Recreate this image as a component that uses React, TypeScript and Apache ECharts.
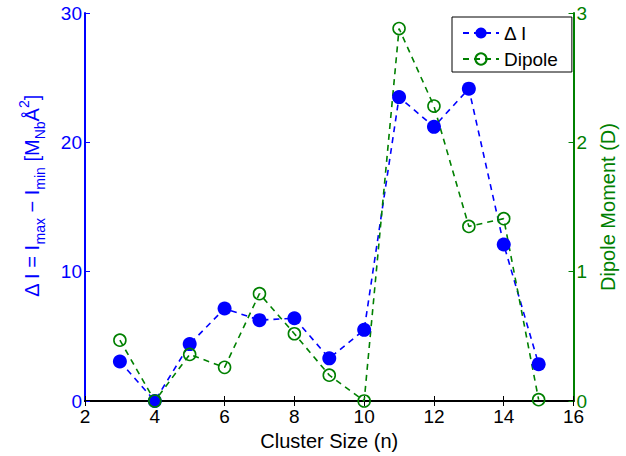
import React, { useEffect, useRef } from "react";
import * as echarts from "echarts";

const clusterSizes = [3, 4, 5, 6, 7, 8, 9, 10, 11, 12, 13, 14, 15];
const deltaI = [3.05, 0, 4.4, 7.15, 6.25, 6.4, 3.3, 5.5, 23.5, 21.2, 24.15, 12.1, 2.85];
const dipole = [0.47, 0, 0.36, 0.26, 0.83, 0.52, 0.2, 0, 2.88, 2.28, 1.35, 1.41, 0.01];
const xTicks = { min: 2, max: 16, interval: 2 };
const leftTicks = { min: 0, max: 30, interval: 10 };
const rightTicks = { min: 0, max: 3, interval: 1 };

const BLUE = "#0000ff";
const GREEN = "#008000";
const FONT = "Liberation Sans";

export default function App() {
  const ref = useRef<HTMLDivElement>(null);
  useEffect(() => {
    const chart = echarts.init(ref.current!, undefined, { renderer: "svg" });
    chart.setOption({
      animation: false,
      backgroundColor: "#ffffff",
      textStyle: { fontFamily: FONT },
      grid: { left: 85, right: 46, top: 13, bottom: 53, containLabel: false },
      legend: {
        left: 452,
        top: 17,
        orient: "vertical",
        backgroundColor: "#ffffff",
        borderColor: "#000000",
        borderWidth: 1,
        borderRadius: 0,
        padding: [6, 14, 3, 10],
        itemGap: 6,
        itemWidth: 36,
        itemHeight: 14,
        textStyle: { fontSize: 19, lineHeight: 20, color: "#000", fontFamily: FONT },
        data: ["Δ I", "Dipole"],
      },
      xAxis: [
        {
          type: "value",
          min: xTicks.min,
          max: xTicks.max,
          interval: xTicks.interval,
          position: "bottom",
          name: "Cluster Size (n)",
          nameLocation: "middle",
          nameGap: 30,
          nameTextStyle: { fontSize: 20, color: "#000", fontFamily: FONT },
          axisLine: { lineStyle: { color: "#000", width: 2 } },
          axisTick: { inside: true, length: 5, lineStyle: { color: "#000", width: 1 } },
          axisLabel: { fontSize: 19, color: "#000", margin: 6, fontFamily: FONT },
          splitLine: { show: false },
        },
        {
          type: "value",
          min: xTicks.min,
          max: xTicks.max,
          interval: xTicks.interval,
          position: "top",
          axisLine: { lineStyle: { color: "#000", width: 2 } },
          axisTick: { inside: true, length: 5, lineStyle: { color: "#000", width: 1 } },
          axisLabel: { show: false },
          splitLine: { show: false },
        },
      ],
      yAxis: [
        {
          type: "value",
          min: leftTicks.min,
          max: leftTicks.max,
          interval: leftTicks.interval,
          position: "left",
          name: "{m|Δ I = I}{s|max}{m| − I}{s|min}{m| [M}{s|Nb}{m|Å}{p|2}{m|]}",
          nameLocation: "middle",
          nameRotate: 90,
          nameGap: 38,
          nameTextStyle: {
            color: BLUE,
            fontFamily: FONT,
            padding: [0, 0, 0, 22],
            rich: {
              m: { fontSize: 20, color: BLUE, fontFamily: FONT, lineHeight: 30, verticalAlign: "middle" },
              s: { fontSize: 14, color: BLUE, fontFamily: FONT, lineHeight: 30, verticalAlign: "bottom" },
              p: { fontSize: 14, color: BLUE, fontFamily: FONT, lineHeight: 30, verticalAlign: "top" },
            },
          },
          axisLine: { lineStyle: { color: BLUE, width: 2 } },
          axisTick: { inside: true, length: 5, lineStyle: { color: BLUE, width: 1 } },
          axisLabel: { fontSize: 19, color: BLUE, margin: 3, fontFamily: FONT },
          splitLine: { show: false },
        },
        {
          type: "value",
          min: rightTicks.min,
          max: rightTicks.max,
          interval: rightTicks.interval,
          position: "right",
          name: "Dipole Moment (D)",
          nameLocation: "middle",
          nameRotate: 90,
          nameGap: 15,
          nameTextStyle: { fontSize: 20, color: GREEN, fontFamily: FONT },
          axisLine: { lineStyle: { color: GREEN, width: 2 } },
          axisTick: { inside: true, length: 5, lineStyle: { color: GREEN, width: 1 } },
          axisLabel: { fontSize: 19, color: GREEN, margin: 3, fontFamily: FONT },
          splitLine: { show: false },
        },
      ],
      series: [
        {
          name: "Δ I",
          type: "line",
          xAxisIndex: 0,
          yAxisIndex: 0,
          data: clusterSizes.map((x, i) => [x, deltaI[i]]),
          symbol: "circle",
          symbolSize: 14,
          clip: false,
          itemStyle: { color: BLUE },
          lineStyle: { color: BLUE, width: 1.6, type: [6, 5] },
        },
        {
          name: "Dipole",
          type: "line",
          xAxisIndex: 0,
          yAxisIndex: 1,
          data: clusterSizes.map((x, i) => [x, dipole[i]]),
          symbol: "circle",
          symbolSize: 12,
          clip: false,
          itemStyle: { color: "rgba(0,0,0,0)", borderColor: GREEN, borderWidth: 1.6 },
          lineStyle: { color: GREEN, width: 1.6, type: [6, 5] },
        },
      ],
    });
    return () => chart.dispose();
  }, []);
  return (
    <div
      ref={ref}
      style={{ position: "absolute", left: 0, top: 0, width: 626, height: 456 }}
    />
  );
}
